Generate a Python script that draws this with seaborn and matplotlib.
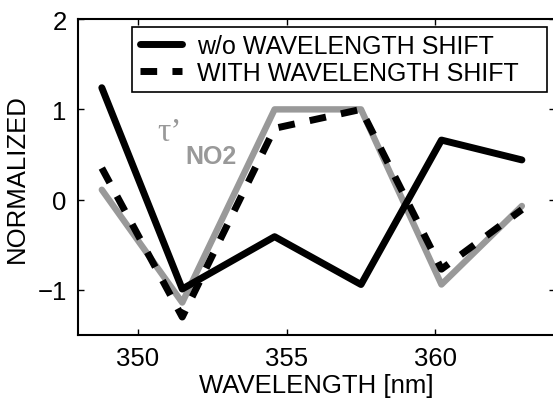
import matplotlib
matplotlib.use('Agg')
import matplotlib.pyplot as plt
import seaborn as sns
import pandas as pd
from matplotlib.lines import Line2D

# data
wavelength = [348.8, 351.5, 354.6, 357.5, 360.2, 362.9]
no_shift   = [1.24, -0.99, -0.41, -0.94, 0.66, 0.44]
with_shift = [0.35, -1.30, 0.79, 1.00, -0.77, -0.11]
tau_no2    = [0.11, -1.14, 1.00, 1.00, -0.94, -0.07]

legend_labels = ['w/o WAVELENGTH SHIFT   ', 'WITH WAVELENGTH SHIFT   ']

sns.set_style('white')
plt.rcParams['font.family'] = ['Liberation Sans', 'DejaVu Sans']
plt.rcParams['font.size'] = 18
plt.rcParams['text.color'] = 'black'
plt.rcParams['axes.labelcolor'] = 'black'
plt.rcParams['xtick.color'] = 'black'
plt.rcParams['ytick.color'] = 'black'

df = pd.DataFrame({'wavelength': wavelength, 'no_shift': no_shift,
                   'with_shift': with_shift, 'tau': tau_no2})

fig = plt.figure(figsize=(5.53, 4.02), dpi=100)
ax = fig.add_axes([0.141, 0.164, 0.862, 0.786])

sns.lineplot(data=df, x='wavelength', y='tau', ax=ax, color='#999999', lw=4.6)
sns.lineplot(data=df, x='wavelength', y='no_shift', ax=ax, color='black', lw=5)
sns.lineplot(data=df, x='wavelength', y='with_shift', ax=ax, color='black', lw=5,
             dashes=(2.4, 2.2))

ax.set_xlim(348, 364)
ax.set_ylim(-1.5, 2)
ax.set_xticks([350, 355, 360])
ax.set_yticks([-1, 0, 1, 2])
ax.set_yticklabels(['\u22121', '0', '1', '2'])
ax.tick_params(direction='in', length=4, width=1, top=True, right=True,
               bottom=True, left=True, labelsize=18.5, pad=8)
for s in ax.spines.values():
    s.set_color('black')
    s.set_linewidth(1.5)

ax.set_xlabel('WAVELENGTH [nm]', fontsize=18.5, labelpad=2)
ax.set_ylabel('NORMALIZED', fontsize=18.5, labelpad=6)

ax.text(350.68, 0.66, '\u03c4\u2019', color='#999999', fontsize=24,
        family='Liberation Serif', ha='left', va='baseline')
ax.text(351.6, 0.41, 'NO2', color='#999999', fontsize=18, fontweight='bold',
        ha='left', va='baseline')

handles = [Line2D([], [], color='black', lw=5),
           Line2D([], [], color='black', lw=5, dashes=(2.4, 2.2))]
leg = ax.legend(handles, legend_labels, loc='upper right', fontsize=18,
                handlelength=1.7, handletextpad=0.6, borderaxespad=0.3,
                borderpad=0.3, labelspacing=0.1, fancybox=False, framealpha=1)
leg.get_frame().set_edgecolor('black')
leg.get_frame().set_linewidth(1.2)

fig.savefig('out.png', dpi=100)
